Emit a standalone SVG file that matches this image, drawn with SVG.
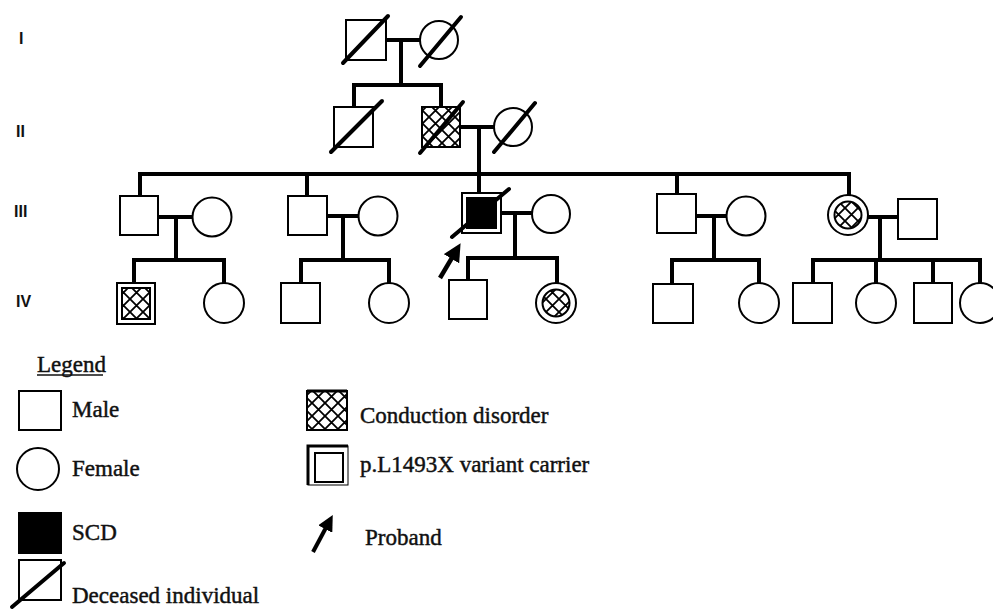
<svg xmlns="http://www.w3.org/2000/svg" width="993" height="611" viewBox="0 0 993 611">
<style>
.sym{fill:#fff;stroke:#000;stroke-width:2}
.hat{fill:url(#hatch);stroke:#000;stroke-width:2}
.blk{fill:#000;stroke:#000;stroke-width:2}
.dec{stroke:#000;stroke-width:4;stroke-linecap:round}
.con line{stroke:#000;stroke-width:4;stroke-linecap:square}
.gen{font-family:"Liberation Sans",Arial,sans-serif;font-weight:bold;font-size:16px;fill:#111}
.lg{font-family:"Liberation Serif","Times New Roman",serif;font-size:23px;fill:#111;stroke:#111;stroke-width:0.45}
</style>
<defs>
<pattern id="hatch" patternUnits="userSpaceOnUse" width="13" height="13">
<rect width="13" height="13" fill="#fff"/>
<path d="M0 0L13 13M13 0L0 13" stroke="#000" stroke-width="1.8"/>
</pattern>
<marker id="ah" markerWidth="4" markerHeight="4" refX="2" refY="2" orient="auto" markerUnits="strokeWidth">
<path d="M0 0L4 2L0 4Z" fill="#000"/>
</marker>
</defs>
<rect width="993" height="611" fill="#fff"/>

<g id="gen-labels">
<text class="gen" x="19" y="44">I</text>
<text class="gen" x="16" y="137">II</text>
<text class="gen" x="14" y="217">III</text>
<text class="gen" x="16" y="307">IV</text>
</g>

<g id="connectors" class="con">
<line x1="386" y1="40" x2="420" y2="40"/>
<line x1="401" y1="40" x2="401" y2="85"/>
<line x1="354" y1="85" x2="441" y2="85"/>
<line x1="354" y1="85" x2="354" y2="107"/>
<line x1="441" y1="85" x2="441" y2="107"/>
<line x1="460" y1="127" x2="494" y2="127"/>
<line x1="479" y1="127" x2="479" y2="174"/>
<line x1="140" y1="174" x2="849" y2="174"/>
<line x1="140" y1="174" x2="140" y2="196"/>
<line x1="307" y1="174" x2="307" y2="196"/>
<line x1="479" y1="174" x2="479" y2="193"/>
<line x1="677" y1="174" x2="677" y2="194"/>
<line x1="849" y1="174" x2="849" y2="195"/>
<line x1="158" y1="217" x2="193" y2="217"/>
<line x1="176" y1="217" x2="176" y2="260"/>
<line x1="134" y1="260" x2="224" y2="260"/>
<line x1="134" y1="260" x2="134" y2="283"/>
<line x1="224" y1="260" x2="224" y2="283"/>
<line x1="327" y1="216" x2="359" y2="216"/>
<line x1="343" y1="216" x2="343" y2="260"/>
<line x1="301" y1="260" x2="389" y2="260"/>
<line x1="301" y1="260" x2="301" y2="283"/>
<line x1="389" y1="260" x2="389" y2="283"/>
<line x1="501" y1="213" x2="532" y2="213"/>
<line x1="515" y1="213" x2="515" y2="258"/>
<line x1="468" y1="258" x2="557" y2="258"/>
<line x1="468" y1="258" x2="468" y2="280"/>
<line x1="557" y1="258" x2="557" y2="283"/>
<line x1="696" y1="216" x2="727" y2="216"/>
<line x1="714" y1="216" x2="714" y2="260"/>
<line x1="672" y1="260" x2="759" y2="260"/>
<line x1="672" y1="260" x2="672" y2="284"/>
<line x1="759" y1="260" x2="759" y2="283"/>
<line x1="868" y1="217" x2="898" y2="217"/>
<line x1="880" y1="217" x2="880" y2="260"/>
<line x1="813" y1="260" x2="980" y2="260"/>
<line x1="813" y1="260" x2="813" y2="283"/>
<line x1="876" y1="260" x2="876" y2="283"/>
<line x1="933" y1="260" x2="933" y2="283"/>
<line x1="980" y1="260" x2="980" y2="283"/>
</g>

<g id="I-1"><rect class="sym" x="346" y="20" width="40" height="40"/><line class="dec" x1="343" y1="63" x2="388" y2="16"/></g>
<g id="I-2"><circle class="sym" cx="439" cy="40" r="19"/><line class="dec" x1="420" y1="66" x2="461" y2="17"/></g>

<g id="II-1"><rect class="sym" x="334" y="107" width="39" height="40"/><line class="dec" x1="331" y1="152" x2="382" y2="101"/></g>
<g id="II-2"><rect class="hat" x="422" y="107" width="38" height="40"/><line class="dec" x1="420" y1="153" x2="463" y2="102"/></g>
<g id="II-3"><circle class="sym" cx="513" cy="127" r="19"/><line class="dec" x1="494" y1="152" x2="535" y2="103"/></g>

<g id="III-1"><rect class="sym" x="120" y="196" width="38" height="39"/></g>
<g id="III-2"><circle class="sym" cx="212" cy="217" r="19.5"/></g>
<g id="III-3"><rect class="sym" x="288" y="196" width="39" height="39"/></g>
<g id="III-4"><circle class="sym" cx="378" cy="216" r="19.5"/></g>
<g id="III-5">
<rect class="sym" x="462" y="193" width="39" height="40"/>
<rect class="blk" x="467" y="198" width="29" height="30"/>
<line class="dec" x1="452" y1="237" x2="509" y2="189"/>
<line stroke="#000" stroke-width="4.5" x1="440" y1="278" x2="456" y2="251" marker-end="url(#ah)"/>
</g>
<g id="III-6"><circle class="sym" cx="551" cy="214" r="19"/></g>
<g id="III-7"><rect class="sym" x="657" y="194" width="39" height="39"/></g>
<g id="III-8"><circle class="sym" cx="746" cy="216" r="19.5"/></g>
<g id="III-9"><circle class="sym" cx="848" cy="215" r="20" stroke-width="3"/><circle class="hat" cx="848" cy="215" r="13.5" stroke-width="1.5"/></g>
<g id="III-10"><rect class="sym" x="898" y="199" width="39" height="40"/></g>

<g id="IV-1"><rect class="sym" x="117" y="283" width="38" height="41"/><rect class="hat" x="122" y="288" width="28" height="31"/></g>
<g id="IV-2"><circle class="sym" cx="224" cy="303" r="20"/></g>
<g id="IV-3"><rect class="sym" x="281" y="283" width="39" height="40"/></g>
<g id="IV-4"><circle class="sym" cx="389" cy="303" r="20"/></g>
<g id="IV-5"><rect class="sym" x="449" y="280" width="38" height="39"/></g>
<g id="IV-6"><circle class="sym" cx="556" cy="303" r="20" stroke-width="3"/><circle class="hat" cx="556" cy="303" r="13.5" stroke-width="1.5"/></g>
<g id="IV-7"><rect class="sym" x="653" y="284" width="40" height="39"/></g>
<g id="IV-8"><circle class="sym" cx="759" cy="303" r="20"/></g>
<g id="IV-9"><rect class="sym" x="793" y="283" width="39" height="40"/></g>
<g id="IV-10"><circle class="sym" cx="876" cy="303" r="20"/></g>
<g id="IV-11"><rect class="sym" x="914" y="283" width="38" height="40"/></g>
<g id="IV-12"><circle class="sym" cx="980" cy="303" r="20"/></g>

<g id="legend">
<text class="lg" x="37" y="372">Legend</text>
<line x1="37" y1="375" x2="103" y2="375" stroke="#111" stroke-width="1.5"/>
<g id="leg-male"><rect class="sym" x="19" y="391" width="42" height="39"/><text class="lg" x="72" y="417">Male</text></g>
<g id="leg-female"><circle class="sym" cx="38" cy="469" r="21"/><text class="lg" x="72" y="476">Female</text></g>
<g id="leg-scd"><rect class="blk" x="19" y="513" width="42" height="40"/><text class="lg" x="72" y="540">SCD</text></g>
<g id="leg-dec"><rect class="sym" x="19" y="560" width="42" height="40"/><line class="dec" x1="12" y1="607" x2="64" y2="563"/><text class="lg" x="72" y="603">Deceased individual</text></g>
<g id="leg-cond"><rect class="hat" x="307" y="391" width="40" height="39"/><line x1="307" y1="391" x2="347" y2="391" stroke="#000" stroke-width="3"/><text class="lg" x="360" y="423">Conduction disorder</text></g>
<g id="leg-carrier"><rect x="308" y="446" width="40" height="39" fill="#fff" stroke="#000" stroke-width="1"/><path d="M308 485V446H348" fill="none" stroke="#000" stroke-width="3"/><rect class="sym" x="315" y="453" width="28" height="29" stroke-width="1.8"/><text class="lg" x="360" y="472">p.L1493X variant carrier</text></g>
<g id="leg-proband"><line stroke="#000" stroke-width="4" x1="313" y1="552" x2="329" y2="522" marker-end="url(#ah)"/><text class="lg" x="365" y="545">Proband</text></g>
</g>
</svg>
